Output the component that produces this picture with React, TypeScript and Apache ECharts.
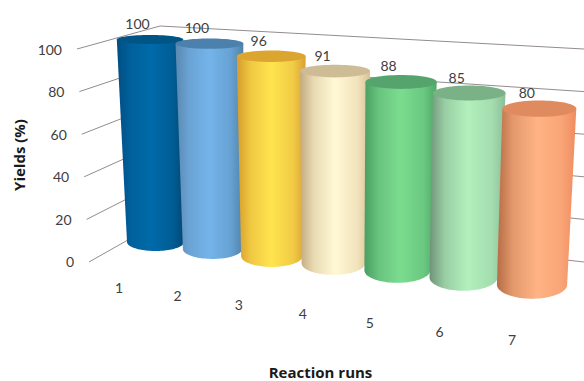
import React, { useEffect, useRef } from "react";
import * as echarts from "echarts";

// Reaction runs and their yields
const runs = ["1", "2", "3", "4", "5", "6", "7"];
const yields = [100, 100, 96, 91, 88, 85, 80];
const yTicks = [0, 20, 40, 60, 80, 100];

// Cylinder shading: [edge left, centre, edge right, top face]
const shades = [
  ["#004f82", "#006aaa", "#004a75", "#005585"],
  ["#5a88b0", "#74b4ea", "#4f82ab", "#4c81ad"],
  ["#d69b2c", "#ffe44f", "#d9a134", "#dba52f"],
  ["#c4aa80", "#fff9d4", "#d9c096", "#cdbc96"],
  ["#4a9e62", "#7bdc8f", "#4fa768", "#56a46d"],
  ["#6f9379", "#b2f0bd", "#8dbe99", "#7ab186"],
  ["#b66c45", "#ffb384", "#ef8c5f", "#e08a5f"],
];

const GRID = { left: 60, top: 40, width: 490, height: 260 };
const TEXT = "#404040";
const LINE = "#948c8c";
const FONT = "Lato";

// Flat axis coordinates back to slot index and value
function unflatten(p: number[]) {
  return {
    u: (p[0] - GRID.left) / (GRID.width / runs.length) - 0.5,
    v: ((GRID.top + GRID.height - p[1]) / GRID.height) * 100,
  };
}

// Receding floor: slots widen and drop toward the viewer on the right
function project(u: number, v: number) {
  const baseX = 155.5 + 57 * u + 1.15 * u * (u - 1);
  const baseY = 242 + 7.1 * u;
  return {
    x: baseX + v * (-0.055 + 0.0245 * u),
    y: baseY - v * (2.025 + 0.029 * u),
  };
}

function renderWall(_: any, api: any) {
  const { v } = unflatten(api.coord([0, api.value(1)]));
  const d = 100 - v;
  const front = [77 + d * 0.12, 49 + d * 2.13];
  const corner = [160 + d * 0.12, 26 + d * 1.89];
  const edge = [584, 49 + d * 2.13];
  return {
    type: "group",
    children: [
      {
        type: "polyline",
        shape: { points: [front, corner, edge] },
        style: { fill: "none", stroke: LINE, lineWidth: 1 },
      },
      {
        type: "text",
        style: {
          x: 62 + d * 0.12,
          y: 49.5 + d * 2.12,
          text: String(Math.round(v)),
          align: "right",
          verticalAlign: "middle",
          fill: TEXT,
          font: `14px ${FONT}`,
        },
      },
    ],
  };
}

function renderCylinder(params: any, api: any) {
  const idx = params.dataIndex;
  const { u, v } = unflatten(api.coord([api.value(0), api.value(1)]));
  const top = project(u, v);
  const bottom = project(u, 0);
  const hwBottom = 28.5 + 1.1 * u;
  const hwTop = hwBottom + (v / 100) * (4.7 - 0.4 * u);
  const ryTop = 4.5 + 0.6 * u;
  const ryBottom = 9 + 0.85 * u;

  const outline: number[][] = [
    [top.x - hwTop, top.y],
    [top.x + hwTop, top.y],
  ];
  for (let k = 0; k <= 48; k++) {
    const a = (k / 48) * Math.PI;
    outline.push([bottom.x + hwBottom * Math.cos(a), bottom.y + ryBottom * Math.sin(a)]);
  }

  const [l, c, r, face] = shades[idx];
  return {
    type: "group",
    children: [
      {
        type: "polygon",
        shape: { points: outline },
        style: {
          fill: new echarts.graphic.LinearGradient(0, 0, 1, 0, [
            { offset: 0, color: l },
            { offset: 0.2, color: echarts.color.lerp(0.62, [l, c]) },
            { offset: 0.5, color: c },
            { offset: 0.82, color: echarts.color.lerp(0.62, [r, c]) },
            { offset: 1, color: r },
          ]),
        },
      },
      {
        type: "ellipse",
        shape: { cx: top.x, cy: top.y, rx: hwTop, ry: ryTop },
        style: { fill: face },
      },
      {
        type: "text",
        style: {
          x: top.x - 12.5,
          y: top.y - 16,
          text: String(Math.round(v)),
          align: "center",
          verticalAlign: "middle",
          fill: TEXT,
          font: `14px ${FONT}`,
        },
      },
      {
        type: "text",
        style: {
          x: 119 + 58.5 * u + 1.4 * u * (u - 1),
          y: 287 + 8.8 * u,
          text: runs[idx],
          align: "center",
          verticalAlign: "middle",
          fill: TEXT,
          font: `14px ${FONT}`,
        },
      },
    ],
  };
}

export default function App() {
  const ref = useRef<HTMLDivElement>(null);

  useEffect(() => {
    document.body.style.margin = "0";
    const chart = echarts.init(ref.current!, undefined, { renderer: "svg" });
    chart.setOption({
      animation: false,
      backgroundColor: "#ffffff",
      grid: GRID,
      xAxis: { type: "category", data: runs, show: false },
      yAxis: { type: "value", min: 0, max: 100, interval: 20, show: false },
      graphic: [
        {
          type: "text",
          x: 320.5,
          y: 371.5,
          style: {
            text: "Reaction runs",
            align: "center",
            verticalAlign: "middle",
            fill: "#1a1a1a",
            font: "bold 15px 'Open Sans'",
          },
        },
        {
          type: "text",
          x: 19,
          y: 155,
          rotation: Math.PI / 2,
          style: {
            text: "Yields (%)",
            align: "center",
            verticalAlign: "middle",
            fill: "#1a1a1a",
            font: "bold 15px 'Open Sans'",
          },
        },
      ],
      series: [
        {
          type: "custom",
          silent: true,
          renderItem: renderWall,
          encode: { x: 0, y: 1 },
          data: yTicks.map((t) => [0, t]),
        },
        {
          type: "custom",
          silent: true,
          renderItem: renderCylinder,
          encode: { x: 0, y: 1 },
          data: yields.map((y, i) => [i, y]),
        },
      ],
    });
    return () => chart.dispose();
  }, []);

  return <div ref={ref} style={{ width: 584, height: 381 }} />;
}
